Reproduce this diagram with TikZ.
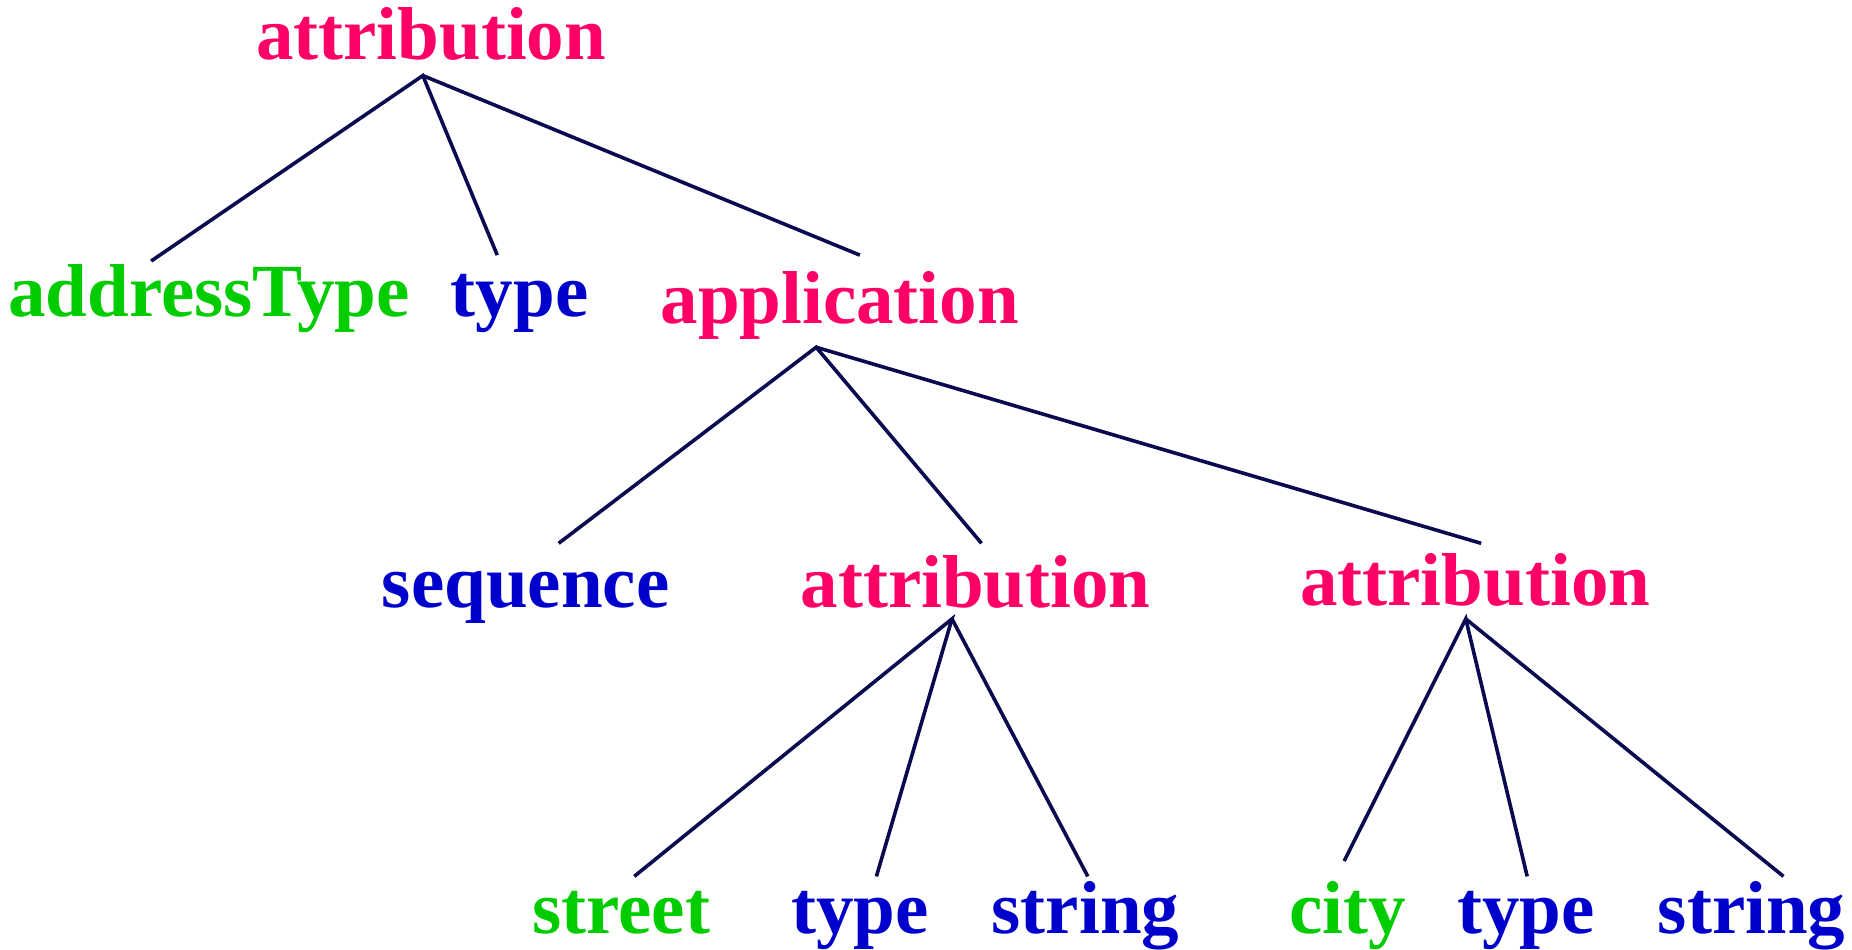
\documentclass[tikz,border=0pt]{standalone}
\usepackage{fontspec}
\setmainfont{Liberation Serif}
\definecolor{relpink}{HTML}{FF0066}
\definecolor{leafgreen}{HTML}{00CC00}
\definecolor{termblue}{HTML}{0000CC}
\definecolor{edgenavy}{HTML}{0A0A50}
\begin{document}
\begin{tikzpicture}[x=1.1811pt,y=-1.1811pt,
  lbl/.style={anchor=base,inner sep=0pt,font=\fontsize{75}{80}\selectfont\bfseries},
  rel/.style={lbl,text=relpink},
  leaf/.style={lbl,text=leafgreen},
  term/.style={lbl,text=termblue},
  edge/.style={draw=edgenavy,line width=3.6pt}]
\useasboundingbox (0,0) rectangle (1568,804);

% labels
\node[rel]  (root) at (365,50)  {attribution};
\node[leaf] (addr) at (177,268) {addressType};
\node[term] (typeA) at (440,268) {type};
\node[rel]  (app)  at (711,274) {application};
\node[term] (seq)  at (445,514) {sequence};
\node[rel]  (attrL) at (826,514) {attribution};
\node[rel]  (attrR) at (1249,513) {attribution};
\node[leaf] (street) at (526,790) {street};
\node[term] (typeB) at (728,790) {type};
\node[term] (strB) at (919,790) {string};
\node[leaf] (city) at (1141,790) {city};
\node[term] (typeC) at (1292,790) {type};
\node[term] (strC) at (1483,790) {string};

% branch points and edge ends
\coordinate (root-b) at (358,64);
\coordinate (addr-t) at (128,221);
\coordinate (typeA-t) at (421,216);
\coordinate (app-t) at (728,216);
\coordinate (app-b) at (691,294);
\coordinate (seq-t) at (473,460);
\coordinate (attrL-t) at (831,460);
\coordinate (attrR-t) at (1254,460);
\coordinate (attrL-b) at (806,524);
\coordinate (street-t) at (537,742);
\coordinate (typeB-t) at (742,742);
\coordinate (strB-t) at (921,742);
\coordinate (attrR-b) at (1241,524);
\coordinate (city-t) at (1138,729);
\coordinate (typeC-t) at (1293,742);
\coordinate (strC-t) at (1510,742);

% edges
\draw[edge] (addr-t) -- (root-b) -- (typeA-t);
\draw[edge] (root-b) -- (app-t);
\draw[edge] (seq-t) -- (app-b) -- (attrL-t);
\draw[edge] (app-b) -- (attrR-t);
\draw[edge] (street-t) -- (attrL-b) -- (typeB-t);
\draw[edge] (attrL-b) -- (strB-t);
\draw[edge] (city-t) -- (attrR-b) -- (typeC-t);
\draw[edge] (attrR-b) -- (strC-t);
\end{tikzpicture}
\end{document}
